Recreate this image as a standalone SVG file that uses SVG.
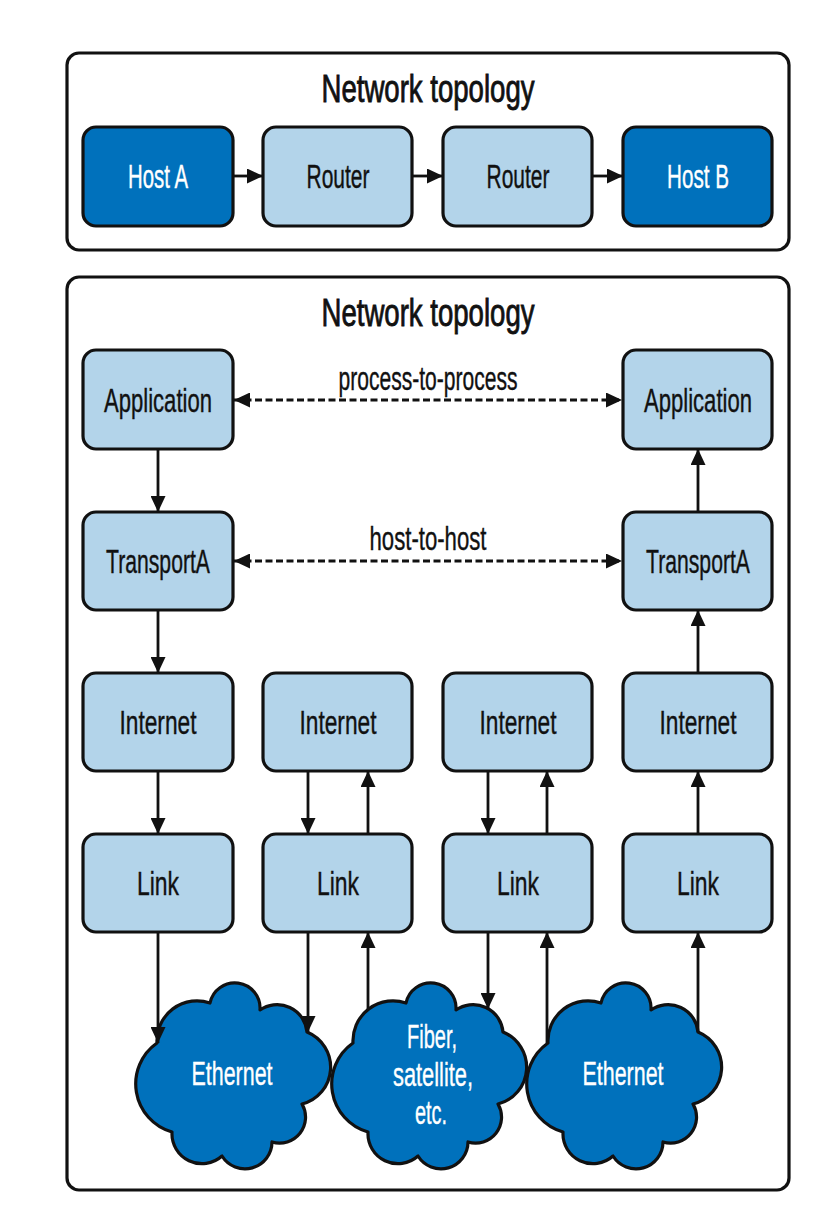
<svg xmlns="http://www.w3.org/2000/svg" width="832" height="1210" viewBox="0 0 832 1210">
<style>
.frame{fill:#ffffff;stroke:#111111;stroke-width:3.2}
.light{fill:#b3d4ea;stroke:#111111;stroke-width:3.2}
.dark{fill:#0071bc;stroke:#111111;stroke-width:3.2}
.cloud{fill:#0071bc;stroke:#111111;stroke-width:3.2;stroke-linejoin:round}
.t{font-family:"Liberation Sans",Arial,sans-serif;font-size:34px;text-anchor:middle;fill:#111111;stroke:#111111;stroke-width:0.4}
.w{fill:#ffffff;stroke:#ffffff}
.title{font-family:"Liberation Sans",Arial,sans-serif;font-size:39px;text-anchor:middle;fill:#111111;stroke:#111111;stroke-width:0.9}
.c{fill:none;stroke:#111111;stroke-width:2.8}
.dash{stroke-width:3;stroke-dasharray:7 3.5}
</style>
<defs>
<marker id="ah" viewBox="0 0 16 15" refX="16" refY="7.5" markerWidth="16" markerHeight="15" markerUnits="userSpaceOnUse" orient="auto-start-reverse">
<path d="M0,0 L16,7.5 L0,15 z" fill="#111111"/>
</marker>
<path id="cloudShape" class="cloud" d="M-75,-31 A40,40 0 0 1 -22,-71 A25.3,25.3 0 0 1 28,-64 A30,30 0 0 1 75,-42 A38,38 0 0 1 70,30 A26,26 0 0 1 40,68 A27,27 0 0 1 -10,82 A30,30 0 0 1 -60,58 A50,50 0 0 1 -75,-31 Z"/>
</defs>

<g id="frame-top">
<rect class="frame" x="67" y="53" width="722" height="197" rx="12"/>
<text class="title" x="428" y="102" textLength="213" lengthAdjust="spacingAndGlyphs">Network topology</text>
</g>
<g id="frame-bottom">
<rect class="frame" x="67" y="277" width="722" height="913" rx="12"/>
<text class="title" x="428" y="326" textLength="213" lengthAdjust="spacingAndGlyphs">Network topology</text>
</g>

<g id="host-a"><rect class="dark" x="83" y="127" width="150" height="99" rx="13"/><text class="t w" x="158" y="188" textLength="60" lengthAdjust="spacingAndGlyphs">Host A</text></g>
<g id="router-1"><rect class="light" x="263" y="127" width="149" height="99" rx="13"/><text class="t" x="338" y="188" textLength="63" lengthAdjust="spacingAndGlyphs">Router</text></g>
<g id="router-2"><rect class="light" x="443" y="127" width="149" height="99" rx="13"/><text class="t" x="518" y="188" textLength="63" lengthAdjust="spacingAndGlyphs">Router</text></g>
<g id="host-b"><rect class="dark" x="623" y="127" width="149" height="99" rx="13"/><text class="t w" x="698" y="188" textLength="62" lengthAdjust="spacingAndGlyphs">Host B</text></g>

<g id="app-a"><rect class="light" x="83" y="350" width="150" height="99" rx="13"/><text class="t" x="158" y="412" textLength="108" lengthAdjust="spacingAndGlyphs">Application</text></g>
<g id="app-b"><rect class="light" x="623" y="350" width="149" height="99" rx="13"/><text class="t" x="698" y="412" textLength="108" lengthAdjust="spacingAndGlyphs">Application</text></g>
<g id="transport-a"><rect class="light" x="83" y="512" width="150" height="98" rx="13"/><text class="t" x="158" y="573" textLength="104" lengthAdjust="spacingAndGlyphs">TransportA</text></g>
<g id="transport-b"><rect class="light" x="623" y="512" width="149" height="98" rx="13"/><text class="t" x="698" y="573" textLength="104" lengthAdjust="spacingAndGlyphs">TransportA</text></g>

<g id="internet-1"><rect class="light" x="83" y="673" width="150" height="98" rx="13"/><text class="t" x="158" y="734" textLength="77" lengthAdjust="spacingAndGlyphs">Internet</text></g>
<g id="internet-2"><rect class="light" x="263" y="673" width="149" height="98" rx="13"/><text class="t" x="338" y="734" textLength="77" lengthAdjust="spacingAndGlyphs">Internet</text></g>
<g id="internet-3"><rect class="light" x="443" y="673" width="149" height="98" rx="13"/><text class="t" x="518" y="734" textLength="77" lengthAdjust="spacingAndGlyphs">Internet</text></g>
<g id="internet-4"><rect class="light" x="623" y="673" width="149" height="98" rx="13"/><text class="t" x="698" y="734" textLength="77" lengthAdjust="spacingAndGlyphs">Internet</text></g>

<g id="link-1"><rect class="light" x="83" y="834" width="150" height="98" rx="13"/><text class="t" x="158" y="895" textLength="42" lengthAdjust="spacingAndGlyphs">Link</text></g>
<g id="link-2"><rect class="light" x="263" y="834" width="149" height="98" rx="13"/><text class="t" x="338" y="895" textLength="42" lengthAdjust="spacingAndGlyphs">Link</text></g>
<g id="link-3"><rect class="light" x="443" y="834" width="149" height="98" rx="13"/><text class="t" x="518" y="895" textLength="42" lengthAdjust="spacingAndGlyphs">Link</text></g>
<g id="link-4"><rect class="light" x="623" y="834" width="149" height="98" rx="13"/><text class="t" x="698" y="895" textLength="42" lengthAdjust="spacingAndGlyphs">Link</text></g>

<g id="cloud-ethernet-1"><use href="#cloudShape" transform="translate(232,1074)"/><text class="t w" x="232" y="1085" textLength="81" lengthAdjust="spacingAndGlyphs">Ethernet</text></g>
<g id="cloud-fiber"><use href="#cloudShape" transform="translate(428,1074)"/>
<text class="t w" x="432" y="1048" textLength="50" lengthAdjust="spacingAndGlyphs">Fiber,</text>
<text class="t w" x="433" y="1086" textLength="80" lengthAdjust="spacingAndGlyphs">satellite,</text>
<text class="t w" x="431" y="1124" textLength="32" lengthAdjust="spacingAndGlyphs">etc.</text></g>
<g id="cloud-ethernet-2"><use href="#cloudShape" transform="translate(623,1074)"/><text class="t w" x="623" y="1085" textLength="81" lengthAdjust="spacingAndGlyphs">Ethernet</text></g>

<g id="connectors">
<line class="c" x1="233" y1="176" x2="263" y2="176" marker-end="url(#ah)"/>
<line class="c" x1="412" y1="176" x2="443" y2="176" marker-end="url(#ah)"/>
<line class="c" x1="592" y1="176" x2="623" y2="176" marker-end="url(#ah)"/>

<line class="c dash" x1="234" y1="400" x2="622" y2="400" marker-start="url(#ah)" marker-end="url(#ah)"/>
<text class="t" x="428" y="390" textLength="179" lengthAdjust="spacingAndGlyphs">process-to-process</text>
<line class="c dash" x1="234" y1="561" x2="622" y2="561" marker-start="url(#ah)" marker-end="url(#ah)"/>
<text class="t" x="428" y="550" textLength="117" lengthAdjust="spacingAndGlyphs">host-to-host</text>

<line class="c" x1="158" y1="449" x2="158" y2="512" marker-end="url(#ah)"/>
<line class="c" x1="158" y1="610" x2="158" y2="673" marker-end="url(#ah)"/>
<line class="c" x1="158" y1="771" x2="158" y2="834" marker-end="url(#ah)"/>
<line class="c" x1="158" y1="932" x2="158" y2="1043" marker-end="url(#ah)"/>

<line class="c" x1="698" y1="512" x2="698" y2="449" marker-end="url(#ah)"/>
<line class="c" x1="698" y1="673" x2="698" y2="610" marker-end="url(#ah)"/>
<line class="c" x1="698" y1="834" x2="698" y2="771" marker-end="url(#ah)"/>
<line class="c" x1="698" y1="1032" x2="698" y2="932" marker-end="url(#ah)"/>

<line class="c" x1="308" y1="771" x2="308" y2="834" marker-end="url(#ah)"/>
<line class="c" x1="368" y1="834" x2="368" y2="771" marker-end="url(#ah)"/>
<line class="c" x1="308" y1="932" x2="308" y2="1032" marker-end="url(#ah)"/>
<line class="c" x1="368" y1="1010" x2="368" y2="932" marker-end="url(#ah)"/>

<line class="c" x1="488" y1="771" x2="488" y2="834" marker-end="url(#ah)"/>
<line class="c" x1="547" y1="834" x2="547" y2="771" marker-end="url(#ah)"/>
<line class="c" x1="488" y1="932" x2="488" y2="1009" marker-end="url(#ah)"/>
<line class="c" x1="547" y1="1043" x2="547" y2="932" marker-end="url(#ah)"/>
</g>
</svg>
